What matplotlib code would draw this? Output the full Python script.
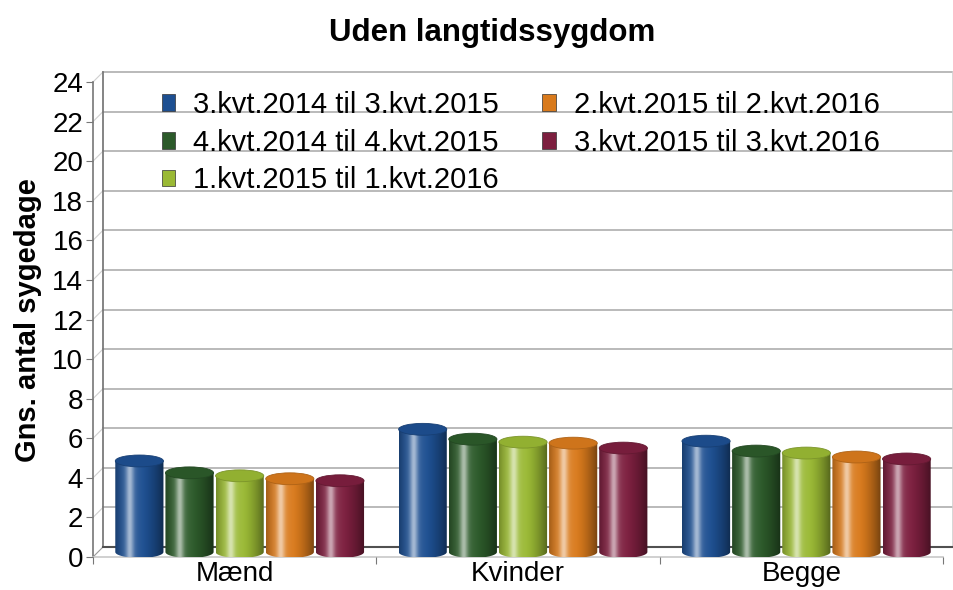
import numpy as np
import matplotlib
matplotlib.use("Agg")
import matplotlib.pyplot as plt
from matplotlib.patches import Ellipse, PathPatch, Patch, ConnectionPatch
from matplotlib.path import Path
from matplotlib.transforms import ScaledTranslation
from matplotlib.colors import to_rgb

plt.rcParams['font.family'] = ['Liberation Sans', 'DejaVu Sans']

# data
groups = ['Mænd', 'Kvinder', 'Begge']
series = ['3.kvt.2014 til 3.kvt.2015', '4.kvt.2014 til 4.kvt.2015',
          '1.kvt.2015 til 1.kvt.2016', '2.kvt.2015 til 2.kvt.2016',
          '3.kvt.2015 til 3.kvt.2016']
values = [
    [4.6, 6.2, 5.6],
    [4.0, 5.7, 5.1],
    [3.85, 5.55, 5.0],
    [3.7, 5.5, 4.8],
    [3.6, 5.25, 4.7],
]
colors = ['#1d4f91', '#2c5a2a', '#9ab934', '#d97a1c', '#7d1f3f']
yticks = list(range(0, 25, 2))

W, H = 954, 590
fig = plt.figure(figsize=(W / 100, H / 100), dpi=100)
ax = fig.add_axes([93 / W, (H - 557) / H, (943 - 93) / W, (557 - 82) / H])
ax.set_xlim(0, 3)
ax.set_ylim(0, 24)
for s in ax.spines.values():
    s.set_visible(False)

# 3d look: back wall shifted by depth, bars half way
back = ax.transData + ScaledTranslation(0.10, 0.10, fig.dpi_scale_trans)
mid = ax.transData + ScaledTranslation(0.05, 0.05, fig.dpi_scale_trans)

for t in yticks[1:]:
    ax.plot([0, 3], [t, t], transform=back, color='#b4b4b4', lw=1.3,
            clip_on=False, zorder=1)
    ax.add_artist(ConnectionPatch((0, t), (0, t), coordsA=ax.transData,
                                  coordsB=back, color='#cfcfcf', lw=0.8, zorder=1))
ax.add_artist(ConnectionPatch((0, 0), (0, 0), coordsA=ax.transData,
                              coordsB=back, color='#9a9a9a', lw=0.8, zorder=1))
ax.plot([0, 0], [0, 24], transform=back, color='#707070', lw=1.2, clip_on=False, zorder=1)
ax.plot([3, 3], [0, 24], transform=back, color='#d0d0d0', lw=1.2, clip_on=False, zorder=1)
ax.plot([0, 3], [0, 0], transform=back, color='#505050', lw=1.5, clip_on=False, zorder=1)
ax.plot([0, 0], [0, 24], color='#777777', lw=1.2, clip_on=False, zorder=1)
ax.plot([0, 3], [0, 0], color='#c8c8c8', lw=1.2, clip_on=False, zorder=1)


def shade(c, n=64):
    base = np.array(to_rgb(c))
    u = np.linspace(0, 1, n)
    dark = 0.25 * (1 - u / 0.3).clip(0) ** 2 + 0.45 * ((u - 0.55) / 0.45).clip(0) ** 1.5
    light = 0.45 * np.exp(-((u - 0.3) / 0.08) ** 2) + 0.15 * np.exp(-((u - 0.3) / 0.2) ** 2)
    rgb = base[None, :] * (1 - dark[:, None])
    rgb = rgb + (1 - rgb) * light[:, None]
    return rgb[None, :, :].clip(0, 1)


bw = 0.17
step = 0.177
eh = 0.6
x = np.arange(len(groups)) + 0.5
for k, (vals, c) in enumerate(zip(values, colors)):
    xs = x + (k - 2) * step
    bars = ax.bar(xs, vals, width=bw, color='none', zorder=3)
    for b in bars:
        x0, h = b.get_x(), b.get_height()
        cx = x0 + bw / 2
        th = np.linspace(np.pi, 2 * np.pi, 40)
        verts = [(x0, h), (x0, 0)] + list(zip(cx + bw / 2 * np.cos(th), eh / 2 * np.sin(th))) \
            + [(x0 + bw, h), (x0, h)]
        body = PathPatch(Path(verts, closed=True), transform=mid, facecolor='none',
                         edgecolor='none', zorder=3)
        ax.add_patch(body)
        im = ax.imshow(shade(c), extent=[x0, x0 + bw, -eh / 2, h], aspect='auto',
                       transform=mid, zorder=3, interpolation='bilinear')
        im.set_clip_path(body)
        top = np.array(to_rgb(c))
        ax.add_patch(Ellipse((cx, h), bw, eh, transform=mid, zorder=4,
                             facecolor=top * 0.95, edgecolor=top * 0.8, lw=0.6))

ax.set_xlim(0, 3)
ax.set_ylim(0, 24)
ax.set_yticks(yticks)
ax.tick_params(axis='y', length=5, color='#777777', labelsize=20, pad=2)
ax.set_xticks([0, 1, 2, 3])
ax.set_xticklabels([])
ax.set_xticks(x, minor=True)
ax.set_xticklabels(groups, minor=True)
ax.tick_params(axis='x', which='major', length=5, color='#777777', direction='out')
ax.tick_params(axis='x', which='minor', length=0, labelsize=20, pad=3)

handles = [Patch(facecolor=c, edgecolor='#333333', lw=0.5) for c in colors]
ax.legend(handles, series, ncol=2, loc='upper left', bbox_to_anchor=(0.05, 1.036),
          frameon=False, fontsize=21, handlelength=0.45, handleheight=0.5,
          handletextpad=0.62, columnspacing=1.5, labelspacing=0.33)

fig.text(492 / W, 1 - 33 / H, 'Uden langtidssygdom', ha='center', va='center',
         fontsize=22.5, fontweight='bold')
fig.text(28 / W, 1 - 320 / H, 'Gns. antal sygedage', ha='center', va='center',
         rotation=90, fontsize=21, fontweight='bold')

fig.savefig('out.png', dpi=100)
